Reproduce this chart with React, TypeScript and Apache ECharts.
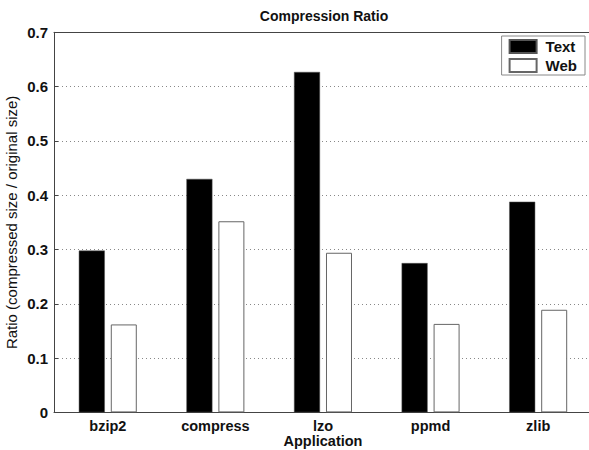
import React, { useEffect, useRef } from "react";
import * as echarts from "echarts";

const categories = ["bzip2", "compress", "lzo", "ppmd", "zlib"];
const textValues = [0.298, 0.43, 0.627, 0.275, 0.388];
const webValues = [0.162, 0.352, 0.294, 0.163, 0.189];
const yTicks = [0, 0.1, 0.2, 0.3, 0.4, 0.5, 0.6, 0.7];

const FONT = "'Liberation Sans', Arial, Helvetica, sans-serif";

export default function App() {
  const ref = useRef<HTMLDivElement>(null);
  useEffect(() => {
    if (!ref.current) return;
    const chart = echarts.init(ref.current, undefined, { renderer: "svg" });
    chart.setOption({
      animation: false,
      backgroundColor: "#fff",
      textStyle: { fontFamily: FONT },
      title: {
        text: "Compression Ratio",
        left: 319,
        top: 4,
        textAlign: "center",
        textStyle: { fontFamily: FONT, fontSize: 14, fontWeight: "bold", color: "#111" },
      },
      legend: {
        data: ["Text", "Web"],
        orient: "vertical",
        right: 4,
        top: 36,
        itemWidth: 27,
        itemHeight: 13,
        itemGap: 4,
        icon: "rect",
        backgroundColor: "#fff",
        borderColor: "#888",
        borderWidth: 1,
        borderRadius: 0,
        padding: [3, 8, 2, 7],
        textStyle: { fontFamily: FONT, fontSize: 15, fontWeight: "bold", color: "#111", padding: [0, 0, 0, 4] },
      },
      grid: {
        left: 54,
        top: 32.3,
        right: -3,
        bottom: 37.6,
        containLabel: false,
        outerBoundsMode: "none",
      },
      xAxis: [
        {
          type: "category",
          data: categories,
          position: "bottom",
          name: "Application",
          nameLocation: "middle",
          nameGap: 22,
          nameMoveOverlap: false,
          nameTextStyle: { fontFamily: FONT, fontSize: 14.5, fontWeight: "bold", color: "#111", lineHeight: 14 },
          axisLine: { lineStyle: { color: "#444", width: 1 } },
          axisTick: { alignWithLabel: true, inside: true, length: 4, lineStyle: { color: "#444" } },
          axisLabel: { fontFamily: FONT, fontSize: 14.5, fontWeight: "bold", color: "#111", margin: 7, lineHeight: 14 },
          splitLine: { show: false },
        },
        {
          type: "category",
          data: categories,
          position: "top",
          axisLine: { lineStyle: { color: "#444", width: 1 } },
          axisTick: { alignWithLabel: true, inside: true, length: 4, lineStyle: { color: "#444" } },
          axisLabel: { show: false },
          splitLine: { show: false },
        },
      ],
      yAxis: {
        type: "value",
        min: yTicks[0],
        max: yTicks[yTicks.length - 1],
        interval: 0.1,
        name: "Ratio (compressed size / original size)",
        nameLocation: "middle",
        nameGap: 35,
        nameMoveOverlap: false,
        nameTextStyle: { fontFamily: FONT, fontSize: 15, color: "#111" },
        axisLine: { show: true, lineStyle: { color: "#444", width: 1 } },
        axisTick: { show: true, inside: true, length: 4, lineStyle: { color: "#444" } },
        axisLabel: {
          fontFamily: FONT,
          fontSize: 15,
          fontWeight: "bold",
          color: "#111",
          margin: 6,
          formatter: (v: number) => (v === 0 ? "0" : v.toFixed(1)),
        },
        splitLine: { show: true, lineStyle: { color: "#888", type: [1, 3], width: 1 } },
      },
      series: [
        {
          name: "Text",
          type: "bar",
          data: textValues,
          barWidth: 26,
          barGap: "23%",
          itemStyle: { color: "#000", borderColor: "#555", borderWidth: 0.5 },
        },
        {
          name: "Web",
          type: "bar",
          data: webValues,
          barWidth: 26,
          itemStyle: { color: "#fff", borderColor: "#666", borderWidth: 1 },
        },
      ],
    });
    return () => chart.dispose();
  }, []);
  return (
    <div
      ref={ref}
      style={{ position: "absolute", left: 0, top: 0, width: 589, height: 450 }}
    />
  );
}
